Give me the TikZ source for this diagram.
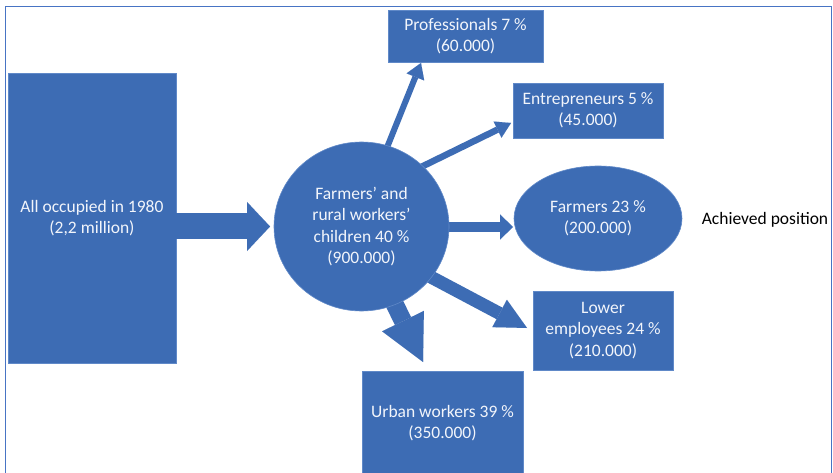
\documentclass[tikz,border=0pt]{standalone}
\usepackage{fontspec}
\setmainfont{Carlito}
\usetikzlibrary{arrows.meta,shapes.geometric}
\definecolor{boxblue}{RGB}{61,108,180}
\definecolor{boxedge}{RGB}{96,137,200}
\definecolor{framecol}{RGB}{72,116,196}
\definecolor{txtwhite}{RGB}{242,245,251}
\tikzset{
  bluebox/.style={rectangle, fill=boxblue, draw=boxedge, line width=0.6pt, text=txtwhite,
    align=center, inner sep=0pt, font=\fontsize{17.5}{21.4}\selectfont},
  blueoval/.style={ellipse, fill=boxblue, draw=boxedge, line width=0.6pt, text=txtwhite,
    align=center, inner sep=0pt, font=\fontsize{17.5}{21.4}\selectfont},
  barrow/.style n args={3}{draw=boxblue, line width=#1, line cap=butt,
    -{Triangle[length=#3, width=#2, line width=0.01pt]}}
}
\begin{document}
\begin{tikzpicture}[x=1pt,y=-1pt]
\clip (0,0) rectangle (833,473);
\fill[white] (0,0) rectangle (833,473);
\draw[framecol, line width=1pt] (5.5,480) -- (5.5,6.5) -- (831.5,6.5) -- (831.5,480);

% nodes
\node[bluebox, minimum width=168pt, minimum height=290pt] (occ) at (92,218) {All occupied in 1980\\(2,2 million)};
\node[bluebox, minimum width=155pt, minimum height=52pt] (prof) at (465.5,36) {Professionals 7 \%\\(60.000)};
\node[bluebox, minimum width=150pt, minimum height=55pt] (entr) at (588,110.5) {Entrepreneurs 5 \%\\(45.000)};
\node[bluebox, minimum width=140pt, minimum height=79pt] (low) at (603,330.5) {Lower\\employees 24 \%\\(210.000)};
\node[bluebox, minimum width=161pt, minimum height=104pt] (urb) at (442.5,423) {Urban workers 39 \%\\(350.000)};
\node[blueoval, minimum width=168pt, minimum height=105pt] (farm) at (598,218.5) {Farmers 23 \%\\(200.000)};
\node[font=\fontsize{17.5}{21.4}\selectfont, text=black, inner sep=0pt] (ach) at (765,220) {Achieved position};

% connector end points
\coordinate (s0) at (176,226.5);
\coordinate (t0) at (270,226.5);
\coordinate (s1) at (384,155);
\coordinate (t1) at (421,63);
\coordinate (s2) at (415,170);
\coordinate (t2) at (511,123);
\coordinate (s3) at (440,227);
\coordinate (t3) at (513,227);
\coordinate (s4) at (412,267);
\coordinate (t4) at (527,328);
\coordinate (s5) at (379,272);
\coordinate (t5) at (423,362);

% block arrows
\draw[barrow={26pt}{49pt}{23pt}] (s0) -- (t0);
\draw[barrow={6pt}{19pt}{15pt}] (s1) -- (t1);
\draw[barrow={6.5pt}{18pt}{15pt}] (s2) -- (t2);
\draw[barrow={10.5pt}{25pt}{13pt}] (s3) -- (t3);
\draw[barrow={13pt}{31pt}{31pt}] (s4) -- (t4);
\draw[barrow={18pt}{46.5pt}{45.5pt}] (s5) -- (t5);

% central circle on top of arrow starts
\node[blueoval, minimum width=175pt, minimum height=169pt] (circ) at (361.5,226.5) {Farmers’ and\\rural workers’\\children 40 \%\\(900.000)};
\end{tikzpicture}
\end{document}
